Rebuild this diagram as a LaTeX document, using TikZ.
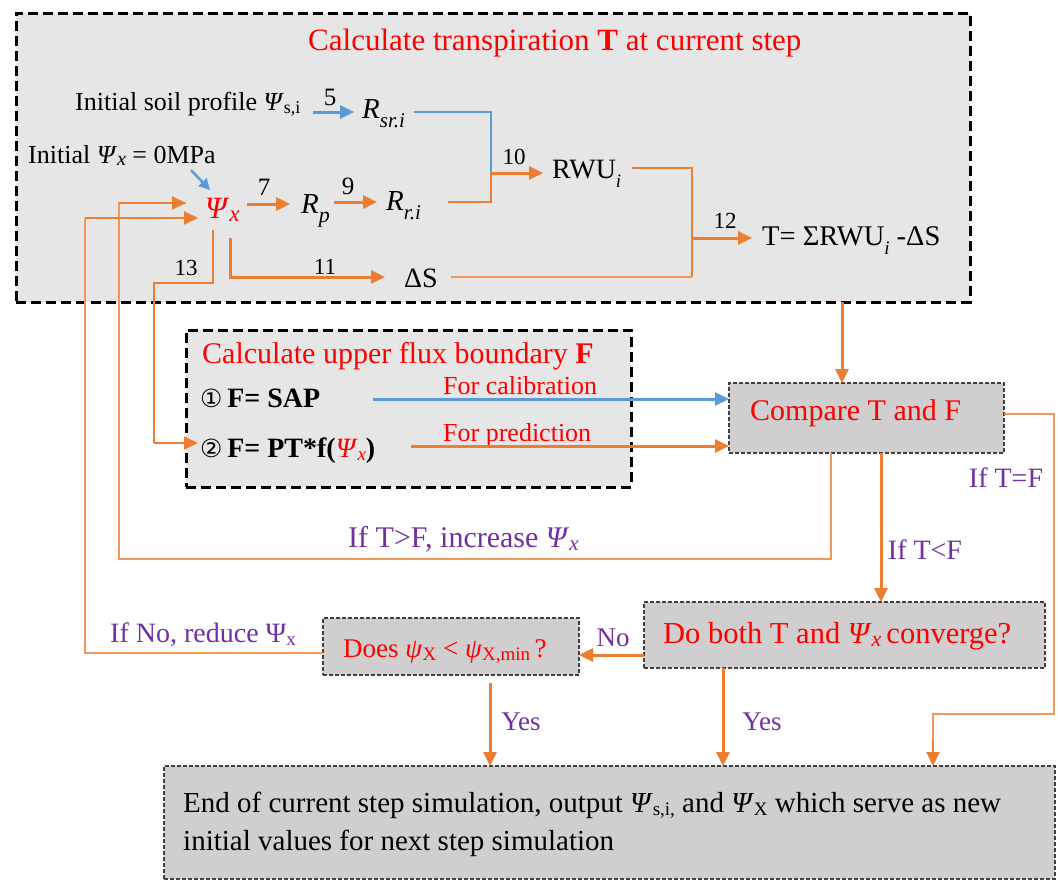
\documentclass[tikz,border=0pt]{standalone}
\usepackage{fontspec}
\usepackage{graphicx}
\setmainfont{Liberation Serif}
\newfontfamily\circfont{DejaVu Sans}
\usetikzlibrary{arrows.meta}

\definecolor{cred}{RGB}{255,0,0}
\definecolor{corange}{RGB}{237,125,49}
\definecolor{clorange}{RGB}{243,150,90}
\definecolor{cblue}{RGB}{91,155,213}
\definecolor{cpurple}{RGB}{112,48,160}
\definecolor{clightfill}{RGB}{231,230,230}
\definecolor{cdarkfill}{RGB}{208,206,206}

\newcommand\setsz[1]{\fontsize{#1}{#1}\selectfont}
% lowered subscript: shift, size, text
\newcommand\mysub[3]{\raisebox{-#1}{\fontsize{#2}{#2}\selectfont #3}}

\begin{document}
\begin{tikzpicture}[x=1pt,y=-1pt,
  bigbox/.style={draw=black, line width=3pt, dash pattern=on 10pt off 5pt,
    fill=clightfill, inner sep=0pt, outer sep=0pt},
  smallbox/.style={draw=black!75, line width=1.3pt, dash pattern=on 4pt off 2pt,
    fill=cdarkfill, inner sep=0pt, outer sep=0pt},
  txt/.style={inner sep=0pt, anchor=base west},
  lbl/.style={inner sep=0pt, anchor=center},
  tip/.style={-{Triangle[length=14pt,width=13pt]}},
  flow/.style={draw=corange, line width=3pt, tip},
  thinflow/.style={draw=corange, line width=2pt, tip},
  bflow/.style={draw=cblue, line width=3pt, tip},
  oline/.style={draw=corange, line width=2.2pt},
  lline/.style={draw=clorange, line width=2pt},
  bline/.style={draw=cblue, line width=1.8pt},
  numlbl/.style={lbl, font=\setsz{25}},
  numlbls/.style={lbl, font=\setsz{23}},
  cond/.style={lbl, text=cpurple, font=\setsz{28}}
]
\useasboundingbox (0,0) rectangle (1058,881);

% ---------- boxes ----------
\node[bigbox, minimum width=954pt, minimum height=289pt] (tbox) at (493,157.5) {};
\node[bigbox, minimum width=445pt, minimum height=157pt] (fbox) at (408.5,408.5) {};
\node[smallbox, minimum width=275pt, minimum height=70pt] (cmp) at (866.5,418) {};
\node[smallbox, minimum width=401pt, minimum height=66pt] (conv) at (844.5,635) {};
\node[smallbox, minimum width=256pt, minimum height=57pt] (does) at (451,646.5) {};
\node[smallbox, minimum width=891pt, minimum height=113pt] (endb) at (609.5,822.5) {};

% ---------- transpiration block ----------
\node[txt, text=cred, font=\setsz{31}] (ttitle) at (308,50)
  {Calculate transpiration \textbf{T} at current step};
\node[txt, font=\setsz{26}] (soil) at (75,110)
  {Initial soil profile \textit{Ψ}\mysub{3pt}{18}{s,i}};
\node[txt, font=\setsz{26}] (initx) at (28,163)
  {Initial \textit{Ψ}\mysub{2pt}{20}{\textit{x}} = 0MPa};
\node[txt, text=cred, font=\setsz{31}] (psix) at (205,218)
  {\textit{Ψ}\mysub{3pt}{23}{\textit{x}}};
\node[txt, font=\setsz{29}] (rsr) at (362,118)
  {\textit{R}\mysub{9pt}{21}{\textit{sr.i}}};
\node[txt, font=\setsz{29}] (rp) at (301,213)
  {\textit{R}\mysub{9pt}{22}{\textit{p}}};
\node[txt, font=\setsz{29}] (rri) at (386,210)
  {\textit{R}\mysub{9pt}{21}{\textit{r.i}}};
\node[txt, font=\setsz{28}] (rwu) at (552,178)
  {RWU\mysub{9pt}{19}{\textit{i}}};
\node[txt, font=\setsz{28.5}] (teq) at (762,245)
  {T= ΣRWU\mysub{9pt}{19}{\textit{i}} -ΔS};
\node[txt, font=\setsz{28}] (ds) at (404,287) {ΔS};

\node[numlbl] (n5) at (330,97) {5};
\node[numlbl] (n7) at (264,187) {7};
\node[numlbl] (n9) at (348,186) {9};
\node[numlbls] (n10) at (514,157) {10};
\node[numlbls] (n11) at (325,267) {11};
\node[numlbls] (n12) at (725,221) {12};
\node[numlbls] (n13) at (186,268) {13};

% connector end points next to the texts
\coordinate (soilout) at (313,112);
\coordinate (rsrin) at (354,112);
\coordinate (rsrout) at (414,112);
\coordinate (initout) at (191,170);
\coordinate (psiin) at (210,190);
\coordinate (psiout) at (247,204);
\coordinate (rpin) at (290,204);
\coordinate (rpout) at (334,202);
\coordinate (rriin) at (377,202);
\coordinate (rriout) at (448,202);
\coordinate (join) at (491,173);
\coordinate (rwuin) at (543,173);
\coordinate (rwuout) at (632,168);
\coordinate (sumx) at (692,238);
\coordinate (teqin) at (752,238);
\coordinate (dsout) at (451,277);
\coordinate (dsin) at (385,277);
\coordinate (psidn) at (230,238);
\coordinate (psi13) at (213,230);
\coordinate (loopa) at (186,203);
\coordinate (loopb) at (198,218);

\draw[bflow] (soilout) -- (rsrin);
\draw[bline] (rsrout) -| (join);
\draw[draw=cblue, line width=2.5pt, -{Triangle[length=11pt,width=11pt]}] (initout) -- (psiin);
\draw[flow] (psiout) -- (rpin);
\draw[flow] (rpout) -- (rriin);
\draw[oline] (rriout) -| (join);
\draw[flow] (join) -- (rwuin);
\draw[oline] (rwuout) -| (692,277);
\draw[flow] (sumx) -- (teqin);
\draw[lline] (dsout) -- (692,277);
\draw[flow] (psidn) |- (dsin);

% ---------- flux boundary block ----------
\node[txt, text=cred, font=\setsz{30}] (ftitle) at (202,363)
  {Calculate upper flux boundary \textbf{F}};
\node[txt, font=\setsz{28}] (fsap) at (200,407)
  {{\circfont\setsz{25}①}\,\textbf{F= SAP}};
\node[txt, font=\setsz{28}] (fpt) at (200,457)
  {{\circfont\setsz{25}②}\,\textbf{F= PT*f(}{\color{cred}\textit{Ψ}\mysub{3pt}{19}{\textit{x}}}\textbf{)}};
\node[txt, text=cred, font=\setsz{26}] (lcal) at (443,394) {For calibration};
\node[txt, text=cred, font=\setsz{26}] (lpred) at (443,441) {For prediction};
\coordinate (f2in) at (198,443);

\draw[oline] (psi13) |- (154,283) -- (154,443);
\draw[thinflow] (154,443) -- (f2in);
\draw[bflow] (373,399) -- (cmp.west |- 0,399);
\draw[flow] (411,446) -- (cmp.west |- 0,446);

% ---------- decisions ----------
\node[txt, text=cred, font=\setsz{30}] (tcmp) at (750,420) {Compare T and F};
\node[txt, text=cred, font=\setsz{30.5}] (tconv) at (663,643)
  {Do both T and \textit{Ψ}\mysub{3pt}{22}{\textit{x}}\,converge?};
\node[txt, text=cred, font=\setsz{27}] (tdoes) at (343,657)
  {Does \textit{ψ}\mysub{3pt}{19}{X} < \textit{ψ}\mysub{3pt}{19}{X,min}\,?};
\node[txt, font=\setsz{29}] (tend1) at (183,812)
  {End of current step simulation, output \textit{Ψ}\mysub{3pt}{19}{s,i,} and \textit{Ψ}\mysub{3pt}{19}{X} which serve as new};
\node[txt, font=\setsz{29}] (tend2) at (183,850)
  {initial values for next step simulation};

\node[txt, text=cpurple, font=\setsz{30}] (cgt) at (348,547)
  {If T>F, increase \textit{Ψ}\mysub{3pt}{21}{\textit{x}}};
\node[txt, text=cpurple, font=\setsz{28}] (cno) at (110,642)
  {If No, reduce Ψ\mysub{3pt}{19}{x}};
\node[cond] (clt) at (925,550) {If T<F};
\node[cond] (ceq) at (1006,478) {If T=F};
\node[cond, font=\setsz{27}] (lno) at (613,638) {No};
\node[cond, font=\setsz{27}] (lyes1) at (521,722) {Yes};
\node[cond, font=\setsz{27}] (lyes2) at (762,722) {Yes};

% ---------- decision connectors ----------
\draw[flow] (tbox.south -| 842,0) -- (cmp.north -| 842,0);
\draw[lline] (cmp.south -| 831,0) -- (831,559) -| (119,203) -- (loopa);
\draw[thinflow] (119,203) -- (loopa);
\draw[flow] (cmp.south -| 881,0) -- (conv.north -| 881,0);
\draw[lline] (cmp.east |- 0,414) -- (1054,414) -- (1054,714) -| (933,740);
\draw[thinflow] (933,740) -- (endb.north -| 933,0);
\draw[flow] (conv.west |- 0,655) -- (does.east |- 0,655);
\draw[lline] (does.west |- 0,653) -| (85,218);
\draw[thinflow] (85,218) -- (loopb);
\draw[flow] (490,683) -- (endb.north -| 490,0);
\draw[flow] (conv.south -| 723,0) -- (endb.north -| 723,0);
\end{tikzpicture}
\end{document}
